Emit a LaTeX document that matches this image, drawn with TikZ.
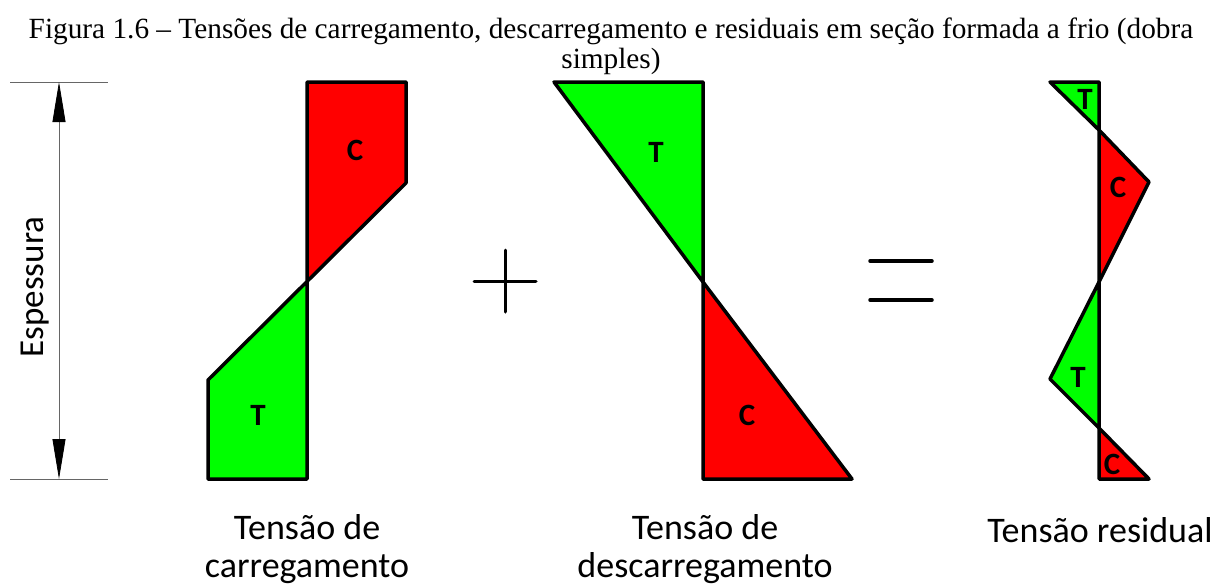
\documentclass[tikz,border=0pt]{standalone}
\usepackage{fontspec}
\setmainfont{Liberation Serif}
\newfontfamily\calibri{Carlito}
\usetikzlibrary{arrows.meta}
\definecolor{tgreen}{RGB}{0,255,0}
\definecolor{cred}{RGB}{255,0,0}

\begin{document}
\begin{tikzpicture}[x=1pt, y=-1pt,
  block/.style = {draw=black, line width=3.5pt, line join=round},
  tlabel/.style = {font=\calibri\bfseries\fontsize{31}{34}\selectfont},
  caption/.style = {font=\calibri\fontsize{36}{38}\selectfont, align=center},
  dimline/.style = {draw=black!60, line width=0.8pt}]
  \useasboundingbox (0,0) rectangle (1221,587);
  % title
  \node [font=\fontsize{29.3}{30}\selectfont, align=center] (title) at (611,46)
    {Figura 1.6 -- Tensões de carregamento, descarregamento e residuais em seção formada a frio (dobra\\simples)};

  % thickness dimension
  \coordinate (top) at (59,82);
  \coordinate (bot) at (59,479);
  \draw [dimline] (10,82) -- (108,82);
  \draw [dimline] (10,479) -- (108,479);
  \draw [dimline, {Triangle[length=40pt, width=13pt, color=black]}-{Triangle[length=40pt, width=13pt, color=black]}] (top) -- (bot);
  \node [caption, font=\calibri\fontsize{35}{38}\selectfont, rotate=90] (esp) at (35,287) {Espessura};

  % loading
  \fill [tgreen] (208,479) -- (208,380) -- (307,282) -- (307,479) -- cycle;
  \fill [cred] (307,82) -- (406,82) -- (406,183) -- (307,282) -- cycle;
  \draw [block] (307,82) -- (406,82) -- (406,183) -- (208,380) -- (208,479) -- (307,479) -- cycle;
  \node [tlabel] (c1) at (355,150) {C};
  \node [tlabel] (t1) at (258,415) {T};
  \node [caption] (load) at (307,549) {Tensão de\\carregamento};

  % plus
  \draw [line width=3pt, line cap=round] (474,281) -- (536,281);
  \draw [line width=3pt, line cap=round] (505,250) -- (505,312);

  % unloading
  \draw [block, fill=tgreen] (554,82) -- (703,82) -- (703,282) -- cycle;
  \draw [block, fill=cred] (703,282) -- (852,479) -- (703,479) -- cycle;
  \node [tlabel] (t2) at (656,152) {T};
  \node [tlabel] (c2) at (747,415) {C};
  \node [caption] (unload) at (705,549) {Tensão de\\descarregamento};

  % equals
  \draw [line width=3.5pt, line cap=round] (870,261) -- (932,261);
  \draw [line width=3.5pt, line cap=round] (870,300) -- (932,300);

  % residual
  \draw [block, fill=tgreen] (1050,82) -- (1099,82) -- (1099,130) -- cycle;
  \draw [block, fill=cred] (1099,130) -- (1149,182) -- (1099,282) -- cycle;
  \draw [block, fill=tgreen] (1099,282) -- (1050,379) -- (1099,428) -- cycle;
  \draw [block, fill=cred] (1099,428) -- (1149,479) -- (1099,479) -- cycle;
  \node [tlabel] (t3) at (1085,99) {T};
  \node [tlabel] (c3) at (1118,187) {C};
  \node [tlabel] (t4) at (1078,377) {T};
  \node [tlabel] (c4) at (1112,464) {C};
  \node [caption] (res) at (1100,530) {Tensão residual};
\end{tikzpicture}
\end{document}
